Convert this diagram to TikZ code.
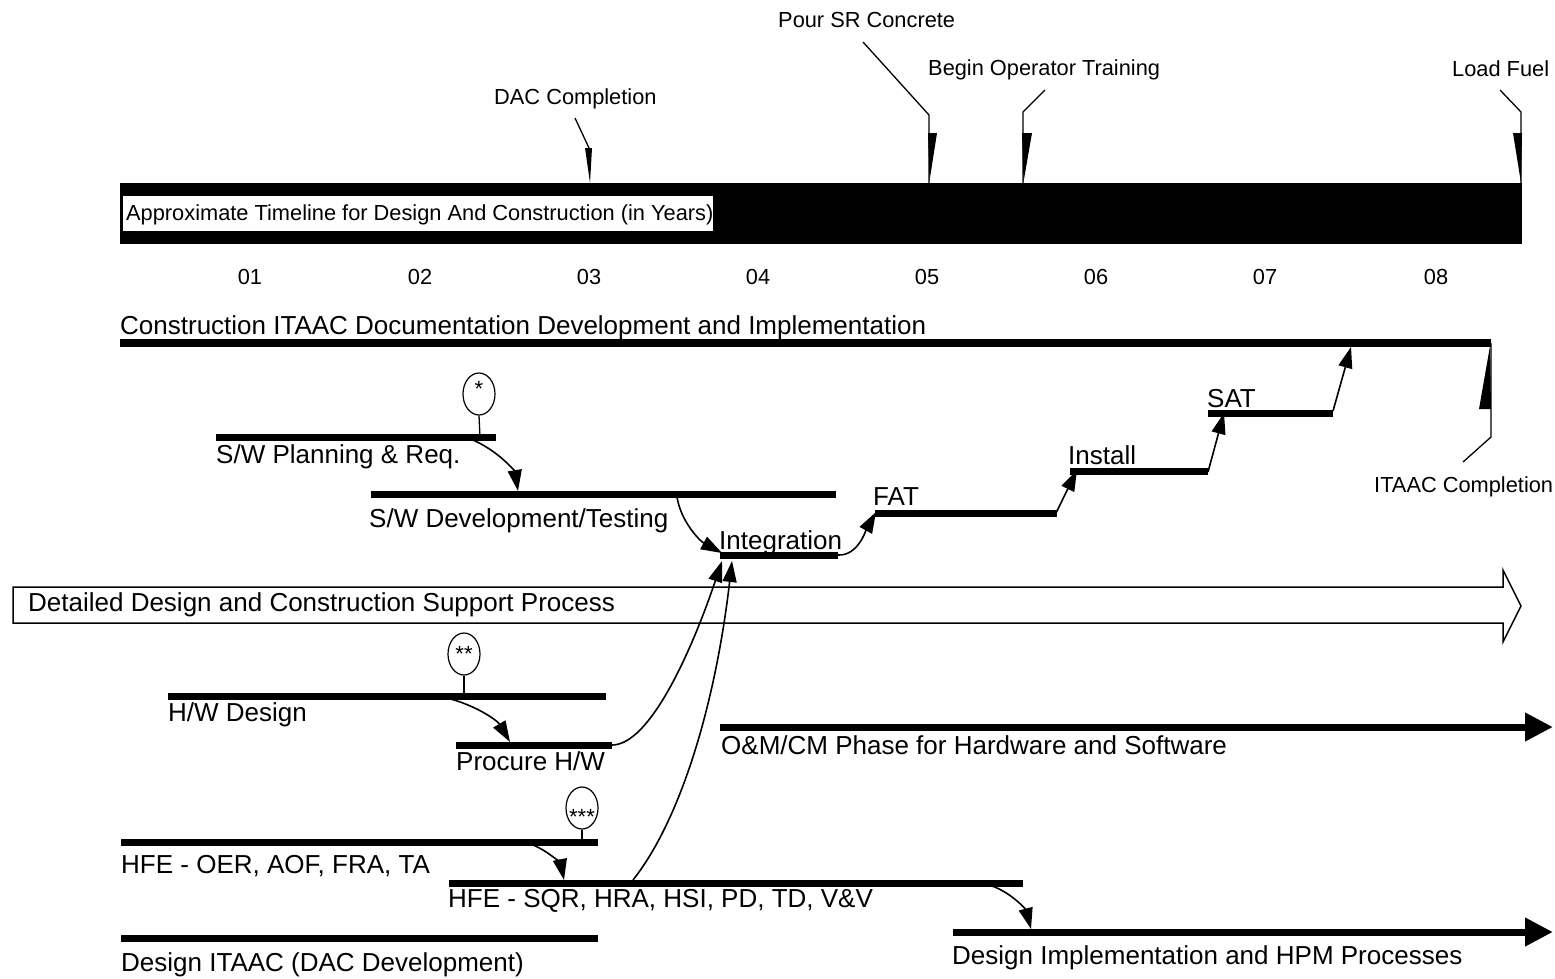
\documentclass[tikz,border=0pt]{standalone}
\usepackage{fontspec}
\setmainfont{Liberation Sans}
\usetikzlibrary{arrows.meta,shapes.geometric}
\begin{document}
\begin{tikzpicture}[x=1pt,y=-1pt,
  small/.style={font=\fontsize{21.8}{24}\selectfont, inner sep=0pt, anchor=base west},
  big/.style={font=\fontsize{26}{28}\selectfont, inner sep=0pt, anchor=base west},
  year/.style={font=\fontsize{21.8}{24}\selectfont, inner sep=0pt, anchor=base},
  star/.style={font=\fontsize{22}{24}\selectfont, inner sep=0pt},
  bar/.style={line width=7pt},
  thin/.style={line width=1.3pt},
  flow/.style={line width=1.6pt, -{Triangle[length=21pt,width=14pt]}},
  bigflow/.style={line width=7pt, -{Triangle[length=28pt,width=27pt]}},
  balloon/.style={draw, line width=1.2pt, ellipse, minimum width=32pt, minimum height=42pt, inner sep=0pt}
]
\useasboundingbox (0,0) rectangle (1555,978);
\fill[white] (0,0) rectangle (1555,978);

% ---------- timeline bar ----------
\fill (120,183) rectangle (1522,244);
\fill[white] (123,196) rectangle (713,231);
\node[small] (timeline) at (126,220) {Approximate Timeline for Design And Construction (in Years)};

% milestones
\node[small] (dac) at (494,104) {DAC Completion};
\coordinate (dacA) at (575,118);
\coordinate (dacB) at (589,148);
\draw[thin] (dacA) -- (dacB);
\fill (585,148) -- (592,148) -- (590,183) -- cycle;

\node[small] (pour) at (778,27) {Pour SR Concrete};
\coordinate (pourA) at (863,42);
\coordinate (pourB) at (929,115);
\coordinate (pourC) at (929,183);
\draw[thin] (pourA) -- (pourB) -- (pourC);
\fill (928,133) -- (937,133) -- (929.5,181) -- cycle;

\node[small] (train) at (928,75) {Begin Operator Training};
\coordinate (trainA) at (1045,90);
\coordinate (trainB) at (1023,112);
\coordinate (trainC) at (1023,183);
\draw[thin] (trainA) -- (trainB) -- (trainC);
\fill (1022,133) -- (1032,133) -- (1023.5,182) -- cycle;

\node[small] (fuel) at (1452,76) {Load Fuel};
\coordinate (fuelA) at (1500,90);
\coordinate (fuelB) at (1521,112);
\coordinate (fuelC) at (1521,183);
\draw[thin] (fuelA) -- (fuelB) -- (fuelC);
\fill (1513,133) -- (1522,133) -- (1521,183) -- cycle;

% years
\node[year] (y1) at (250,284) {01};
\node[year] (y2) at (420,284) {02};
\node[year] (y3) at (589,284) {03};
\node[year] (y4) at (758,284) {04};
\node[year] (y5) at (927,284) {05};
\node[year] (y6) at (1096,284) {06};
\node[year] (y7) at (1265,284) {07};
\node[year] (y8) at (1436,284) {08};

% ---------- construction ITAAC ----------
\node[big] (citaac) at (120,334) {Construction ITAAC Documentation Development and Implementation};
\coordinate (ciL) at (120,343);
\coordinate (ciR) at (1491,343);
\draw[line width=8.5pt] (ciL) -- (ciR);
\coordinate (icA) at (1491,343);
\coordinate (icB) at (1491,437);
\coordinate (icC) at (1463,462);
\draw[thin] (icA) -- (icB) -- (icC);
\fill (1479,409) -- (1491,409) -- (1490,346) -- cycle;
\node[small] (icomp) at (1374,492) {ITAAC Completion};

% ---------- software chain ----------
\coordinate (swpL) at (216,437);
\coordinate (swpR) at (496,437);
\draw[bar] (swpL) -- (swpR);
\node[big] (swp) at (216,463) {S/W Planning \& Req.};
\node[balloon] (b1) at (479,394) {};
\node[star] (b1t) at (479,389) {*};
\coordinate (b1s) at (480,437);
\draw[thin] (b1.south) -- (b1s);

\coordinate (swdL) at (371,494);
\coordinate (swdR) at (836,494);
\draw[bar] (swdL) -- (swdR);
\node[big] (swd) at (369,527) {S/W Development/Testing};

\coordinate (intL) at (720,555);
\coordinate (intR) at (838,555);
\draw[bar] (intL) -- (intR);
\node[big] (int) at (719,549) {Integration};

\coordinate (fatL) at (875,513);
\coordinate (fatR) at (1057,513);
\draw[bar] (fatL) -- (fatR);
\node[big] (fat) at (873,505) {FAT};

\coordinate (insL) at (1070,471);
\coordinate (insR) at (1208,471);
\draw[bar] (insL) -- (insR);
\node[big] (ins) at (1068,464) {Install};

\coordinate (satL) at (1208,413);
\coordinate (satR) at (1333,413);
\draw[bar] (satL) -- (satR);
\node[big] (sat) at (1207,407) {SAT};

% flows
\coordinate (f1a) at (473,440);
\coordinate (f1b) at (518,491);
\draw[flow] (f1a) .. controls (500,452) and (515,472) .. (f1b);
\coordinate (f2a) at (677,497);
\coordinate (f2b) at (722,553);
\draw[flow] (f2a) .. controls (681,522) and (700,541) .. (f2b);
\coordinate (f3a) at (838,555);
\coordinate (f3b) at (876,512);
\draw[flow] (f3a) .. controls (858,556) and (866,530) .. (f3b);
\coordinate (f4a) at (1056,513);
\coordinate (f4b) at (1077,470);
\draw[flow] (f4a) -- (f4b);
\coordinate (f5a) at (1208,472);
\coordinate (f5b) at (1224,413);
\draw[flow] (f5a) -- (f5b);
\coordinate (f6a) at (1333,411);
\coordinate (f6b) at (1351,347);
\draw[flow] (f6a) -- (f6b);

% ---------- detailed design hollow arrow ----------
\coordinate (ddL) at (13,587);
\draw[line width=1.5pt, line join=miter] (ddL) -- (1503,587) -- (1503,570) -- (1521,606) -- (1503,642) -- (1503,623) -- (13,623) -- cycle;
\node[big] (dd) at (28,611) {Detailed Design and Construction Support Process};

% ---------- hardware ----------
\coordinate (hwL) at (168,696);
\coordinate (hwR) at (606,696);
\draw[bar] (hwL) -- (hwR);
\node[big] (hw) at (168,721) {H/W Design};
\node[balloon] (b2) at (464,654) {};
\node[star] (b2t) at (464,654) {**};
\coordinate (b2s) at (464,696);
\draw[thin] (b2.south) -- (b2s);

\coordinate (prL) at (456,745);
\coordinate (prR) at (612,745);
\draw[bar] (prL) -- (prR);
\node[big] (pr) at (456,770) {Procure H/W};

\coordinate (f7a) at (447,698);
\coordinate (f7b) at (510,742);
\draw[flow] (f7a) .. controls (475,705) and (497,720) .. (f7b);
\coordinate (f8b) at (722,561);
\draw[flow] (prR) .. controls (650,745) and (692,650) .. (f8b);

% O&M
\coordinate (omL) at (720,727);
\coordinate (omR) at (1553,727);
\draw[bigflow] (omL) -- (omR);
\node[big] (om) at (721,754) {O\&M/CM Phase for Hardware and Software};

% ---------- HFE ----------
\coordinate (oerL) at (121,842);
\coordinate (oerR) at (598,842);
\draw[bar] (oerL) -- (oerR);
\node[big] (oer) at (121,873) {HFE - OER, AOF, FRA, TA};
\node[balloon] (b3) at (582,808) {};
\node[star] (b3t) at (582,817) {***};
\coordinate (b3s) at (582,842);
\draw[thin] (b3.south) -- (b3s);

\coordinate (sqrL) at (449,883);
\coordinate (sqrR) at (1023,883);
\draw[bar] (sqrL) -- (sqrR);
\node[big] (sqr) at (448,907) {HFE - SQR, HRA, HSI, PD, TD, V\&V};

\coordinate (f10a) at (533,845);
\coordinate (f10b) at (564,880);
\draw[flow] (f10a) .. controls (550,852) and (561,865) .. (f10b);
\coordinate (f9a) at (633,880);
\coordinate (f9b) at (732,561);
\draw[flow] (f9a) .. controls (682,818) and (716,700) .. (f9b);

\coordinate (f11a) at (992,886);
\coordinate (f11b) at (1031,929);
\draw[flow] (f11a) .. controls (1012,893) and (1026,910) .. (f11b);

\coordinate (diL) at (953,932);
\coordinate (diR) at (1553,932);
\draw[bigflow] (diL) -- (diR);
\node[big] (di) at (952,964) {Design Implementation and HPM Processes};

\coordinate (ditL) at (121,938);
\coordinate (ditR) at (598,938);
\draw[bar] (ditL) -- (ditR);
\node[big] (dit) at (121,971) {Design ITAAC (DAC Development)};
\end{tikzpicture}
\end{document}
